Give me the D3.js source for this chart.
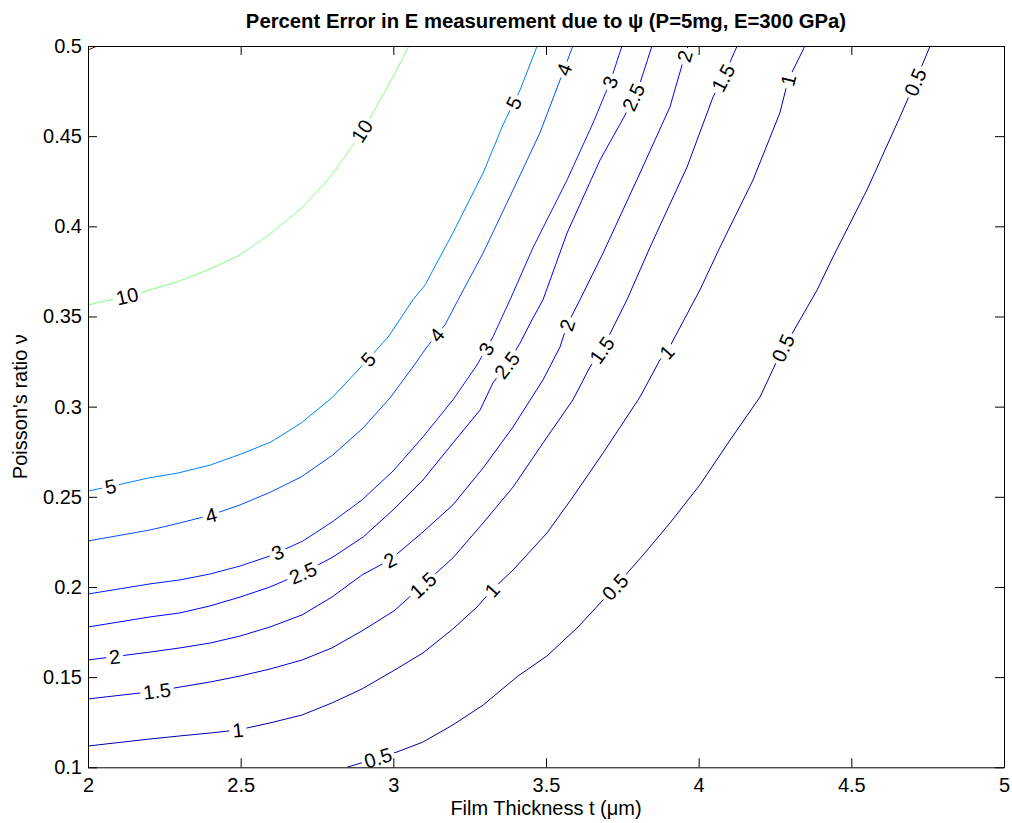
<!DOCTYPE html>
<html><head><meta charset="utf-8">
<script src="https://cdn.jsdelivr.net/npm/d3@7"></script>
<style>
body{margin:0;background:#fff}
svg{display:block}
text{font-family:"Liberation Sans",Arial,Helvetica,sans-serif}
</style>
</head><body>
<svg id="chart" width="1012" height="823"></svg>
<script>
// ---- data (t in µm, ν) ----
const levels = [0.5, 1, 1.5, 2, 2.5, 3, 4, 5, 10, 20];

const line05 = [[2.848,0.1],[3.012,0.1085],[3.097,0.1140],[3.195,0.1235],[3.294,0.1345],[3.408,0.1506],[3.503,0.1617],[3.605,0.1778],[3.726,0.2000],[3.769,0.2083],[3.818,0.2177],[3.906,0.2355],[4.004,0.2566],[4.103,0.2815],[4.201,0.3054],[4.276,0.3325],[4.309,0.3414],[4.388,0.3647],[4.440,0.3830],[4.551,0.4201],[4.659,0.4606],[4.709,0.4800],[4.758,0.5]];
const line1 = [[2,0.1118],[2.203,0.1157],[2.301,0.1174],[2.400,0.1190],[2.491,0.1207],[2.596,0.1246],[2.701,0.1290],[2.799,0.1357],[2.897,0.1434],[2.999,0.1534],[3.097,0.1634],[3.195,0.1767],[3.274,0.1889],[3.323,0.1983],[3.392,0.2094],[3.503,0.2299],[3.588,0.2499],[3.687,0.2743],[3.808,0.3054],[3.873,0.3259],[3.896,0.3303],[4.004,0.3647],[4.070,0.3885],[4.178,0.4257],[4.266,0.4629],[4.293,0.4811],[4.348,0.5]];
const line15 = [[2,0.1379],[2.226,0.1423],[2.301,0.1445],[2.400,0.1473],[2.498,0.1506],[2.596,0.1545],[2.701,0.1595],[2.799,0.1662],[2.897,0.1756],[3.002,0.1867],[3.097,0.2011],[3.195,0.2161],[3.294,0.2355],[3.392,0.2554],[3.490,0.2798],[3.588,0.3037],[3.644,0.3220],[3.683,0.3314],[3.765,0.3592],[3.841,0.3885],[3.962,0.4329],[4.047,0.4717],[4.080,0.4823],[4.126,0.5]];
const line2 = [[2,0.1595],[2.203,0.1639],[2.301,0.1662],[2.400,0.1689],[2.498,0.1728],[2.596,0.1778],[2.701,0.1845],[2.799,0.1944],[2.897,0.2066],[2.989,0.2150],[3.097,0.2305],[3.195,0.2455],[3.294,0.2660],[3.392,0.2887],[3.490,0.3148],[3.546,0.3331],[3.569,0.3453],[3.611,0.3592],[3.687,0.3852],[3.808,0.4296],[3.906,0.4662],[3.955,0.4950],[3.965,0.5]];
const line25 = [[2,0.1778],[2.203,0.1834],[2.301,0.1856],[2.400,0.1895],[2.498,0.1944],[2.596,0.2000],[2.704,0.2078],[2.802,0.2166],[2.901,0.2277],[2.999,0.2427],[3.097,0.2593],[3.195,0.2798],[3.284,0.2981],[3.326,0.3131],[3.372,0.3231],[3.415,0.3353],[3.454,0.3481],[3.490,0.3592],[3.569,0.3963],[3.677,0.4368],[3.759,0.4617],[3.808,0.4795],[3.847,0.5]];
const line3 = [[2,0.1961],[2.203,0.2017],[2.301,0.2039],[2.400,0.2072],[2.498,0.2116],[2.596,0.2172],[2.704,0.2255],[2.799,0.2360],[2.897,0.2482],[2.999,0.2643],[3.097,0.2832],[3.195,0.3037],[3.274,0.3231],[3.326,0.3386],[3.382,0.3592],[3.457,0.3880],[3.569,0.4257],[3.654,0.4573],[3.710,0.4800],[3.749,0.5]];
const line4 = [[2,0.2255],[2.203,0.2316],[2.301,0.2355],[2.403,0.2399],[2.498,0.2455],[2.599,0.2527],[2.698,0.2610],[2.802,0.2732],[2.901,0.2882],[2.989,0.3048],[3.064,0.3220],[3.110,0.3331],[3.169,0.3453],[3.212,0.3592],[3.294,0.3852],[3.392,0.4201],[3.480,0.4518],[3.546,0.4811],[3.588,0.5]];
const line5 = [[2,0.2532],[2.098,0.2566],[2.197,0.2604],[2.295,0.2632],[2.400,0.2676],[2.501,0.2737],[2.599,0.2804],[2.698,0.2909],[2.802,0.3054],[2.894,0.3220],[2.983,0.3386],[3.064,0.3592],[3.104,0.3675],[3.195,0.3963],[3.294,0.4296],[3.359,0.4562],[3.415,0.4756],[3.471,0.5]];
const line10 = [[2,0.3564],[2.170,0.3630],[2.301,0.3697],[2.400,0.3763],[2.498,0.3841],[2.596,0.3957],[2.701,0.4102],[2.799,0.4285],[2.868,0.4451],[2.924,0.4601],[2.999,0.4828],[3.051,0.5]];
const line20 = [[2,0.4978],[2.030,0.5]];
const contourLines = [line05, line1, line15, line2, line25, line3, line4, line5, line10, line20];

// label anchor points on each contour (same order as levels)
const labels05 = [[2.950,0.1052],[3.726,0.2000],[4.276,0.3325],[4.709,0.4800]];
const labels1 = [[2.491,0.1207],[3.323,0.1983],[3.896,0.3303],[4.293,0.4811]];
const labels15 = [[2.226,0.1423],[3.097,0.2011],[3.683,0.3314],[4.080,0.4823]];
const labels2 = [[2.088,0.1606],[2.989,0.2150],[3.569,0.3453],[3.952,0.4944]];
const labels25 = [[2.704,0.2078],[3.372,0.3231],[3.785,0.4717]];
const labels3 = [[2.622,0.2188],[3.300,0.3325],[3.710,0.4800]];
const labels4 = [[2.403,0.2399],[3.143,0.3397],[3.562,0.4867]];
const labels5 = [[2.075,0.2549],[2.920,0.3259],[3.395,0.4684]];
const labels10 = [[2.128,0.3614],[2.897,0.4529]];
const labels20 = [];
const contourLabels = [labels05, labels1, labels15, labels2, labels25, labels3, labels4, labels5, labels10, labels20];

const xTicks = [2, 2.5, 3, 3.5, 4, 4.5, 5];
const yTicks = [0.1, 0.15, 0.2, 0.25, 0.3, 0.35, 0.4, 0.45, 0.5];
const titleText = "Percent Error in E measurement due to \u03c8 (P=5mg, E=300 GPa)";
const xLabelText = "Film Thickness t (\u03bcm)";
const yLabelText = "Poisson's ratio \u03bd";

// ---- layout ----
const L = 88, R = 1004, T = 46, B = 767.3;
const svg = d3.select("#chart");
const x = d3.scaleLinear().domain([2, 5]).range([L, R]);
const y = d3.scaleLinear().domain([0.1, 0.5]).range([B, T]);

// jet colormap
const jet = d3.scaleLinear()
  .domain([0, 1/8, 3/8, 5/8, 7/8, 1])
  .range(["#000080", "#0000ff", "#00ffff", "#ffff00", "#ff0000", "#800000"])
  .clamp(true);
const levelPos = d3.scaleLinear().domain([0, 20]).range([0, 1]);

svg.append("defs").append("clipPath").attr("id", "plotclip")
  .append("rect").attr("x", L).attr("y", T).attr("width", R - L).attr("height", B - T);

const plot = svg.append("g").attr("clip-path", "url(#plotclip)");
const lineGen = d3.line().x(d => x(d[0])).y(d => y(d[1]));

levels.forEach((lv, i) => {
  plot.append("path")
    .attr("d", lineGen(contourLines[i]))
    .attr("fill", "none")
    .attr("stroke", jet(levelPos(lv)))
    .attr("stroke-width", 1);
});

// labels
const labelLayer = svg.append("g");
levels.forEach((lv, i) => {
  const pts = contourLines[i].map(d => [x(d[0]), y(d[1])]);
  contourLabels[i].forEach(lp => {
    const px = x(lp[0]), py = y(lp[1]);
    let best = null;
    for (let k = 0; k < pts.length - 1; k++) {
      const [ax, ay] = pts[k], [bx, by] = pts[k + 1];
      const dx = bx - ax, dy = by - ay;
      const len2 = dx * dx + dy * dy;
      let u = len2 ? ((px - ax) * dx + (py - ay) * dy) / len2 : 0;
      u = Math.max(0, Math.min(1, u));
      const qx = ax + u * dx, qy = ay + u * dy;
      const dist = (qx - px) ** 2 + (qy - py) ** 2;
      if (!best || dist < best.dist) best = {dist, qx, qy, dx, dy};
    }
    let ang = Math.atan2(best.dy, best.dx) * 180 / Math.PI;
    if (ang > 90) ang -= 180;
    if (ang < -90) ang += 180;
    const g = labelLayer.append("g")
      .attr("transform", `translate(${best.qx},${best.qy}) rotate(${ang})`);
    const rect = g.append("rect").attr("fill", "#fff");
    const txt = g.append("text")
      .attr("text-anchor", "middle")
      .attr("dy", "0.36em")
      .attr("font-size", 20)
      .attr("fill", "#000")
      .text(String(lv));
    const w = txt.node().getComputedTextLength();
    rect.attr("x", -w / 2 - 3).attr("y", -7).attr("width", w + 6).attr("height", 14);
  });
});

// axes
const axisStyle = g => {
  g.selectAll(".domain").attr("stroke", "#000").attr("stroke-width", 1);
  g.selectAll(".tick line").attr("stroke", "#000").attr("stroke-width", 1);
  g.selectAll(".tick text").attr("fill", "#000").attr("font-size", 20)
    .attr("font-family", '"Liberation Sans",Arial,sans-serif');
};
const fmt = d => String(d);

svg.append("g").attr("transform", `translate(0,${B})`)
  .call(d3.axisBottom(x).tickValues(xTicks).tickFormat(fmt).tickSizeInner(-9).tickSizeOuter(0).tickPadding(11))
  .call(axisStyle);
svg.append("g").attr("transform", `translate(0,${T})`)
  .call(d3.axisTop(x).tickValues(xTicks).tickFormat("").tickSizeInner(-9).tickSizeOuter(0))
  .call(axisStyle);
svg.append("g").attr("transform", `translate(${L},0)`)
  .call(d3.axisLeft(y).tickValues(yTicks).tickFormat(fmt).tickSizeInner(-9).tickSizeOuter(0).tickPadding(6))
  .call(axisStyle);
svg.append("g").attr("transform", `translate(${R},0)`)
  .call(d3.axisRight(y).tickValues(yTicks).tickFormat("").tickSizeInner(-9).tickSizeOuter(0))
  .call(axisStyle);

// titles
svg.append("text")
  .attr("x", (L + R) / 2).attr("y", 28)
  .attr("text-anchor", "middle").attr("font-size", 20.3).attr("font-weight", "bold")
  .text(titleText);
svg.append("text")
  .attr("x", (L + R) / 2).attr("y", 815)
  .attr("text-anchor", "middle").attr("font-size", 20)
  .text(xLabelText);
svg.append("text")
  .attr("transform", `translate(27,${(T + B) / 2}) rotate(-90)`)
  .attr("text-anchor", "middle").attr("font-size", 20)
  .text(yLabelText);
</script>
</body></html>
